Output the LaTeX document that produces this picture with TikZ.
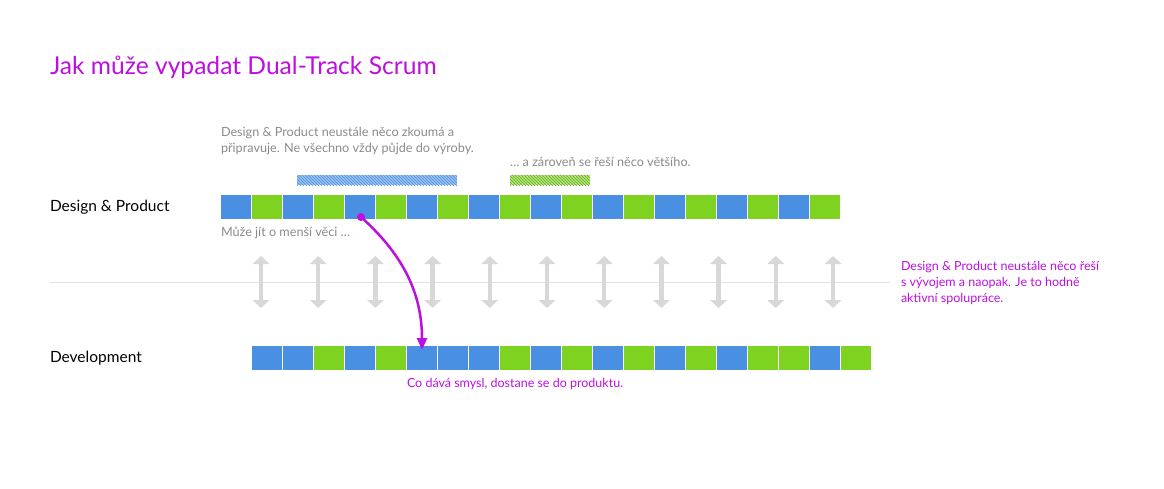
\documentclass[tikz,border=0pt]{standalone}
\usepackage{fontspec}
\setmainfont{Lato}
\usetikzlibrary{arrows.meta,patterns}
\definecolor{cblue}{HTML}{4A90E2}
\definecolor{cgreen}{HTML}{7ED321}
\definecolor{cmag}{HTML}{BD10E0}
\definecolor{cgray}{HTML}{8B8B8B}
\definecolor{carrow}{HTML}{D8D8D8}
\definecolor{cline}{HTML}{E3E3E3}
\tikzset{
  cell/.style={minimum width=30pt,minimum height=24pt,inner sep=0pt,outer sep=0pt},
  txt/.style={anchor=base west,inner sep=0pt,outer sep=0pt},
  graytxt/.style={txt,text=cgray,font=\fontsize{12.65}{16}\selectfont},
  magtxt/.style={txt,text=cmag,font=\fontsize{12.5}{16}\selectfont},
  labeltxt/.style={txt,text=black,font=\fontsize{15.5}{18}\selectfont},
  dblarrow/.style={carrow,line width=4.5pt,{Triangle[length=8pt,width=16.5pt]}-{Triangle[length=8pt,width=16.5pt]}},
  hatchbar/.style={minimum height=10pt,inner sep=0pt,outer sep=0pt,anchor=north west}
}
\begin{document}
\begin{tikzpicture}[x=1pt,y=-1pt]
\useasboundingbox[fill=white] (0,0) rectangle (1164,488);

% title
\node[txt,text=cmag,font=\fontsize{24.6}{28}\selectfont] (title) at (50,74) {Jak může vypadat Dual-Track Scrum};

% top explanatory texts
\node[graytxt] (g1) at (221,136) {Design \& Product neustále něco zkoumá a};
\node[graytxt] (g2) at (221,152) {připravuje. Ne všechno vždy půjde do výroby.};
\node[graytxt] (g3) at (510,166) {… a zároveň se řeší něco většího.};

% hatched bars
\node[hatchbar,minimum width=160pt,fill=cblue!55] (hb1) at (297,175) {};
\node[hatchbar,minimum width=160pt,pattern=north west lines,pattern color=cblue] (hb1p) at (297,175) {};
\node[hatchbar,minimum width=80pt,fill=cgreen!60] (hb2) at (510,175) {};
\node[hatchbar,minimum width=80pt,pattern=north west lines,pattern color=cgreen!80!black] (hb2p) at (510,175) {};

% row labels
\node[labeltxt] (ldp) at (50,211) {Design \& Product};
\node[labeltxt] (ldev) at (50,362) {Development};

% top strip
\foreach \c [count=\i] in {cblue,cgreen,cblue,cgreen,cblue,cgreen,cblue,cgreen,cblue,cgreen,cblue,cgreen,cblue,cgreen,cblue,cgreen,cblue,cgreen,cblue,cgreen}
  \node[cell,fill=\c] (t\i) at ({221+31*(\i-1)+15},207) {};

% bottom strip
\foreach \c [count=\i] in {cblue,cblue,cgreen,cblue,cgreen,cblue,cblue,cblue,cgreen,cblue,cgreen,cblue,cgreen,cblue,cgreen,cblue,cgreen,cgreen,cblue,cgreen}
  \node[cell,fill=\c] (b\i) at ({252+31*(\i-1)+15},358) {};

\node[graytxt] (g4) at (221,236) {Může jít o menší věci …};

% separator line
\coordinate (sepL) at (50,282);
\coordinate (sepR) at (890,282);
\draw[cline,line width=1pt] (sepL) -- (sepR);

% double arrows
\foreach \i in {0,...,10} {
  \coordinate (au\i) at ({261+57.2*\i},256);
  \coordinate (ad\i) at ({261+57.2*\i},308);
  \draw[dblarrow] (au\i) -- (ad\i);
}

% right text
\node[magtxt] (r1) at (901,270) {Design \& Product neustále něco řeší};
\node[magtxt] (r2) at (901,286) {s vývojem a naopak. Je to hodně};
\node[magtxt] (r3) at (901,302) {aktivní spolupráce.};

% magenta arrow
\node[circle,fill=cmag,inner sep=0pt,minimum size=8pt] (dot) at (361,217) {};
\coordinate (tip) at (422,350);
\draw[cmag,line width=2.5pt,-{Triangle[length=12pt,width=10pt]}] (dot.center) .. controls (400,252) and (422,290) .. (tip);

\node[magtxt] (bt) at (407,387) {Co dává smysl, dostane se do produktu.};
\end{tikzpicture}
\end{document}
